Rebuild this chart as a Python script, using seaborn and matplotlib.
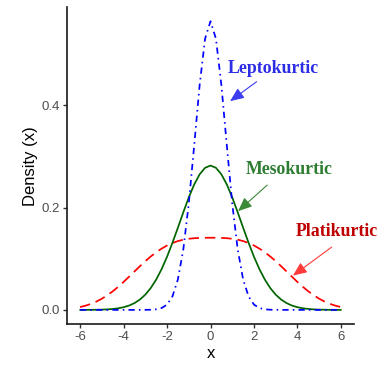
import matplotlib

matplotlib.use("Agg")
import matplotlib.pyplot as plt
import pandas as pd
import seaborn as sns

# values (x step 0.25, symmetric about 0)
x_half = [0.0, 0.25, 0.5, 0.75, 1.0, 1.25, 1.5, 1.75, 2.0, 2.25, 2.5, 2.75, 3.0,
          3.25, 3.5, 3.75, 4.0, 4.25, 4.5, 4.75, 5.0, 5.25, 5.5, 5.75, 6.0]
lepto_half = [0.5642, 0.530, 0.4394, 0.3215, 0.2076, 0.1183, 0.0595, 0.0264, 0.0103,
              0.0036, 0.0011, 0.0003, 0.0001, 0.0, 0.0, 0.0, 0.0, 0.0, 0.0, 0.0,
              0.0, 0.0, 0.0, 0.0, 0.0]
meso_half = [0.2821, 0.2777, 0.2650, 0.2451, 0.2197, 0.1909, 0.1607, 0.1312, 0.1038,
             0.0796, 0.0591, 0.0426, 0.0297, 0.0201, 0.0132, 0.0084, 0.0052, 0.0031,
             0.0018, 0.0010, 0.0005, 0.0003, 0.0001, 0.0001, 0.0]
platy_half = [0.1410, 0.1410, 0.1407, 0.1401, 0.1390, 0.1372, 0.1345, 0.1307, 0.1258,
              0.1197, 0.1125, 0.1043, 0.0952, 0.0853, 0.0750, 0.0647, 0.0545, 0.0450,
              0.0362, 0.0285, 0.0218, 0.0162, 0.0117, 0.0082, 0.0055]

x_ticks = [-6, -4, -2, 0, 2, 4, 6]
y_ticks = [0.0, 0.2, 0.4]


def mirror(vals):
    return vals[:0:-1] + vals


x_full = [-v for v in x_half[:0:-1]] + x_half
df = pd.DataFrame(
    {
        "x": x_full * 3,
        "density": mirror(platy_half) + mirror(meso_half) + mirror(lepto_half),
        "kind": ["Platikurtic"] * len(x_full)
        + ["Mesokurtic"] * len(x_full)
        + ["Leptokurtic"] * len(x_full),
    }
)

sns.set_theme(style="ticks")
plt.rcParams["font.family"] = ["Liberation Sans", "DejaVu Sans"]

fig = plt.figure(figsize=(3.88, 3.69), dpi=100)
ax = fig.add_axes([0.1727, 0.1211, 0.7397, 0.8599])

styles = {
    "Platikurtic": ("#ff0000", (0, (6.0, 3.4))),
    "Mesokurtic": ("#006400", "-"),
    "Leptokurtic": ("#0000ff", (0, (3.6, 2.4, 0.9, 2.4))),
}
for kind, (col, ls) in styles.items():
    sub = df[df["kind"] == kind]
    sns.lineplot(data=sub, x="x", y="density", color=col, linestyle=ls,
                 linewidth=1.25, ax=ax)

ax.set_xlim(-6.6, 6.6)
ax.set_ylim(-0.0282, 0.592)
ax.set_xticks(x_ticks)
ax.set_xticklabels([str(t) for t in x_ticks])
ax.set_yticks(y_ticks)
ax.set_yticklabels([f"{t:.1f}" for t in y_ticks])
ax.tick_params(axis="both", labelsize=9.5, labelcolor="#4d4d4d", color="#333333",
               length=3, width=1.0, direction="out", pad=2)
ax.set_xlabel("x", fontsize=12, color="black", labelpad=2)
ax.set_ylabel("Density (x)", fontsize=12, color="black", labelpad=3)
sns.despine(ax=ax)
for side in ["left", "bottom"]:
    ax.spines[side].set_color("#1a1a1a")
    ax.spines[side].set_linewidth(1.2)

serif = ["Liberation Serif", "DejaVu Serif"]
notes = [
    ("Leptokurtic", (2.9, 0.472), (2.12, 0.446), (0.90, 0.408), "#2d2de6", "#3c3cf0"),
    ("Mesokurtic", (3.64, 0.274), (2.61, 0.244), (1.27, 0.193), "#2e7d32", "#3a8a3a"),
    ("Platikurtic", (5.79, 0.153), (5.57, 0.1226), (3.79, 0.067), "#c00000", "#ff3a3a"),
]
for text, txy, start, end, tcol, acol in notes:
    ax.text(*txy, text, color=tcol, fontsize=12.8, fontweight="bold", family=serif,
            ha="center", va="center")
    ax.annotate("", xy=end, xytext=start,
                arrowprops=dict(arrowstyle="-|>,head_length=0.7,head_width=0.3",
                                color=acol, lw=0.8, shrinkA=0, shrinkB=0))

fig.savefig("out.png", dpi=100)
